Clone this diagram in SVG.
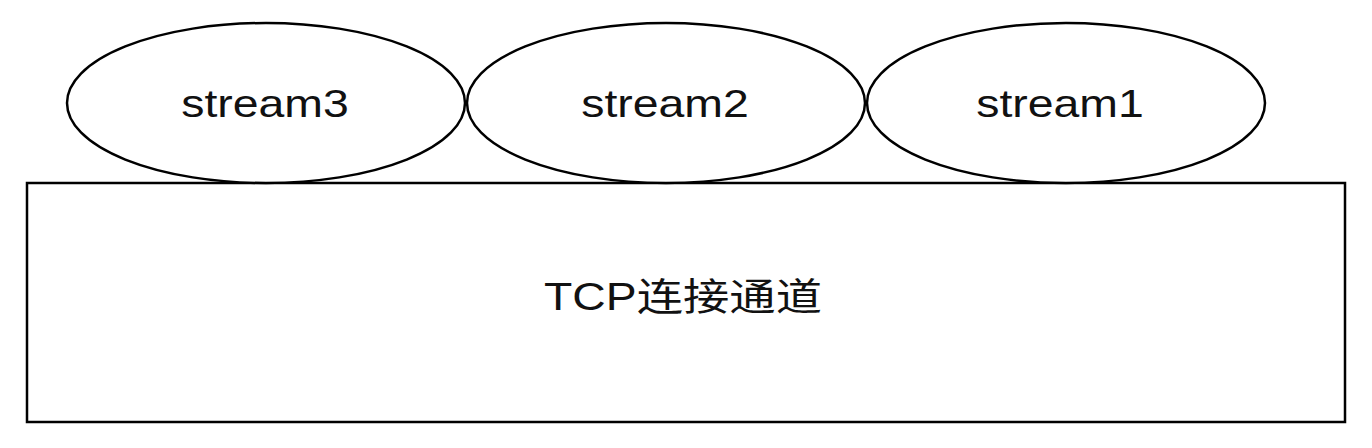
<svg xmlns="http://www.w3.org/2000/svg" width="1372" height="448" viewBox="0 0 1372 448">
<style>
.shape{fill:#ffffff;stroke:#000000;stroke-width:2.5}
.lbl{font-family:"Liberation Sans","Noto Sans CJK SC",sans-serif;fill:#111111;text-anchor:middle}
</style>
<rect x="0" y="0" width="1372" height="448" fill="#ffffff"/>
<g id="tcp">
<rect class="shape" x="27" y="183" width="1318" height="239"/>
<text class="lbl" font-size="38" transform="translate(683,310) scale(1.22,1)">TCP连接通道</text>
</g>
<g id="stream3">
<ellipse class="shape" cx="266" cy="103" rx="199" ry="80"/>
<text class="lbl" font-size="39" transform="translate(265,117) scale(1.19,1)">stream3</text>
</g>
<g id="stream2">
<ellipse class="shape" cx="666" cy="103" rx="199" ry="80"/>
<text class="lbl" font-size="39" transform="translate(665,117) scale(1.19,1)">stream2</text>
</g>
<g id="stream1">
<ellipse class="shape" cx="1066" cy="103" rx="199" ry="80"/>
<text class="lbl" font-size="39" transform="translate(1060,117) scale(1.19,1)">stream1</text>
</g>
<g id="connectors"></g>
</svg>
